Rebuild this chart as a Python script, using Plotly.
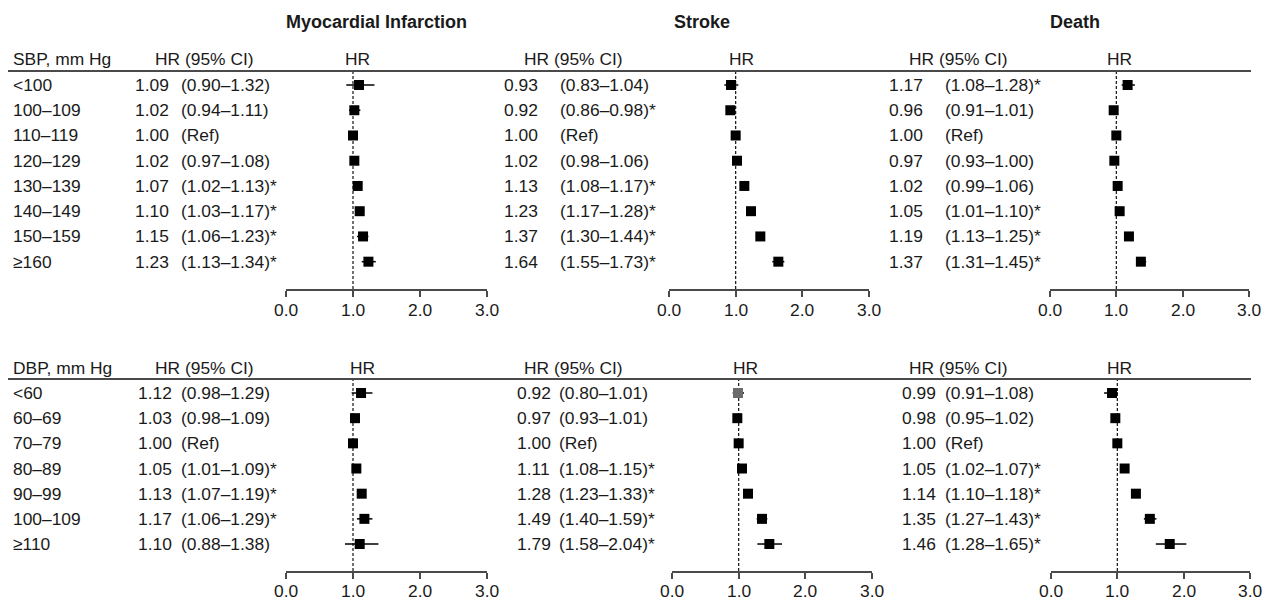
import plotly.graph_objects as go

# ---------------- data ----------------
outcomes = ["Myocardial Infarction", "Stroke", "Death"]

sbp_labels = ["<100", "100–109", "110–119", "120–129", "130–139", "140–149", "150–159", "≥160"]
dbp_labels = ["<60", "60–69", "70–79", "80–89", "90–99", "100–109", "≥110"]

# SBP (hazard ratio, lower CI, upper CI); None = reference category
mi_sbp_hr = [1.09, 1.02, 1.00, 1.02, 1.07, 1.10, 1.15, 1.23]
mi_sbp_lo = [0.90, 0.94, None, 0.97, 1.02, 1.03, 1.06, 1.13]
mi_sbp_hi = [1.32, 1.11, None, 1.08, 1.13, 1.17, 1.23, 1.34]

stroke_sbp_hr = [0.93, 0.92, 1.00, 1.02, 1.13, 1.23, 1.37, 1.64]
stroke_sbp_lo = [0.83, 0.86, None, 0.98, 1.08, 1.17, 1.30, 1.55]
stroke_sbp_hi = [1.04, 0.98, None, 1.06, 1.17, 1.28, 1.44, 1.73]

death_sbp_hr = [1.17, 0.96, 1.00, 0.97, 1.02, 1.05, 1.19, 1.37]
death_sbp_lo = [1.08, 0.91, None, 0.93, 0.99, 1.01, 1.13, 1.31]
death_sbp_hi = [1.28, 1.01, None, 1.00, 1.06, 1.10, 1.25, 1.45]

# DBP
mi_dbp_hr = [1.12, 1.03, 1.00, 1.05, 1.13, 1.17, 1.10]
mi_dbp_lo = [0.98, 0.98, None, 1.01, 1.07, 1.06, 0.88]
mi_dbp_hi = [1.29, 1.09, None, 1.09, 1.19, 1.29, 1.38]

stroke_dbp_hr = [0.92, 0.97, 1.00, 1.11, 1.28, 1.49, 1.79]
stroke_dbp_lo = [0.80, 0.93, None, 1.08, 1.23, 1.40, 1.58]
stroke_dbp_hi = [1.01, 1.01, None, 1.15, 1.33, 1.59, 2.04]

death_dbp_hr = [0.99, 0.98, 1.00, 1.05, 1.14, 1.35, 1.46]
death_dbp_lo = [0.91, 0.95, None, 1.02, 1.10, 1.27, 1.28]
death_dbp_hi = [1.08, 1.02, None, 1.07, 1.18, 1.43, 1.65]

axis_ticks = [0, 1, 2, 3]
axis_ticktext = ["0.0", "1.0", "2.0", "3.0"]

# ---------------- layout helpers ----------------
# positions below are given in target-image pixels; the page adds an 8px body margin
OFF = 8
W, H = 1265, 601

FONT = "Liberation Sans, Arial, sans-serif"
TXT = "#1a1a1a"
LINE = "#4a4a4a"
FS = 17.4

def px(x):
    return max(0.0, x - OFF) / W

def py(y):
    return 1 - (y - OFF) / H

panels = {
    "top": dict(
        labels=sbp_labels, header="SBP, mm Hg", yaxis="y",
        head_y=59, line_y=71, row0=85, step=25.24, axis_y=289, tick_y=310,
        data=[(mi_sbp_hr, mi_sbp_lo, mi_sbp_hi),
              (stroke_sbp_hr, stroke_sbp_lo, stroke_sbp_hi),
              (death_sbp_hr, death_sbp_lo, death_sbp_hi)],
        drawn=[(mi_sbp_hr, mi_sbp_lo, mi_sbp_hi),
               (stroke_sbp_hr, stroke_sbp_lo, stroke_sbp_hi),
               (death_sbp_hr, death_sbp_lo, death_sbp_hi)],
        hr_x=[133, 502, 887], ci_x=[179, 558, 943],
        hrci_head=[204, 573, 958], hr_head=[357, 741, 1119],
        ax=[(286, 487), (669, 869), (1050, 1249)],
        gray=[[], [], []],
    ),
    "bottom": dict(
        labels=dbp_labels, header="DBP, mm Hg", yaxis="y2",
        head_y=368, line_y=379, row0=393, step=25.17, axis_y=571, tick_y=591,
        data=[(mi_dbp_hr, mi_dbp_lo, mi_dbp_hi),
              (stroke_dbp_hr, stroke_dbp_lo, stroke_dbp_hi),
              (death_dbp_hr, death_dbp_lo, death_dbp_hi)],
        # in the original figure the Stroke and Death DBP markers are swapped
        drawn=[(mi_dbp_hr, mi_dbp_lo, mi_dbp_hi),
               (death_dbp_hr, death_dbp_lo, death_dbp_hi),
               (stroke_dbp_hr, stroke_dbp_lo, stroke_dbp_hi)],
        hr_x=[136, 515, 900], ci_x=[179, 557, 943],
        hrci_head=[204, 573, 958], hr_head=[362, 745, 1119],
        ax=[(286, 487), (672, 872), (1051, 1250)],
        gray=[[], [0], []],
    ),
}

fig = go.Figure()
annotations = []
shapes = []
layout_axes = {}

def ann(text, x, y, xanchor="left", xref="paper", yref="paper", bold=False, size=FS):
    annotations.append(dict(
        text=f"<b>{text}</b>" if bold else text, x=x, y=y, xref=xref, yref=yref,
        xanchor=xanchor, yanchor="middle", showarrow=False,
        font=dict(family=FONT, size=size, color=TXT)))

# titles
for name, cx in zip(outcomes, [376, 702, 1075]):
    ann(name, px(cx), py(22), xanchor="center", bold=True, size=18)

xi = 0
for key, p in panels.items():
    n = len(p["labels"])
    ytop = (p["row0"] - p["line_y"]) / p["step"]
    ybot = -(n - 1) - (p["axis_y"] - (p["row0"] + (n - 1) * p["step"])) / p["step"]
    ya = "yaxis" if p["yaxis"] == "y" else "yaxis2"
    layout_axes[ya] = dict(domain=[py(p["axis_y"]), py(p["line_y"])], range=[ybot, ytop],
                           visible=False, fixedrange=True, automargin=False)
    yvals = [-i for i in range(n)]

    # header line
    shapes.append(dict(type="line", xref="paper", yref="paper", x0=px(8), x1=px(1251),
                       y0=py(p["line_y"]), y1=py(p["line_y"]),
                       line=dict(color=LINE, width=1.8)))
    ann(p["header"], px(11), py(p["head_y"]))

    for lab, yv in zip(p["labels"], yvals):
        ann(lab, px(11), yv, yref=p["yaxis"])

    for j in range(3):
        xi += 1
        xname = "x" if xi == 1 else f"x{xi}"
        xa = "xaxis" if xi == 1 else f"xaxis{xi}"
        a0, a1 = p["ax"][j]
        layout_axes[xa] = dict(
            domain=[px(a0), px(a1)], range=[0, 3], anchor=p["yaxis"],
            tickvals=axis_ticks, ticks="outside", ticklen=6, showticklabels=False,
            tickwidth=1.5, tickcolor=LINE, showline=True, linecolor=LINE, linewidth=1.5,
            showgrid=False, zeroline=False, fixedrange=True, automargin=False)
        # tick labels placed on the axis scale
        for tv, tt in zip(axis_ticks, axis_ticktext):
            ann(tt, tv, py(p["tick_y"]), xanchor="center", xref=xname)

        ann("HR (95% CI)", px(p["hrci_head"][j]), py(p["head_y"]), xanchor="center")
        ann("HR", px(p["hr_head"][j]), py(p["head_y"]), xanchor="center")

        hr, lo, hi = p["data"][j]
        for i in range(n):
            ann(f"{hr[i]:.2f}", px(p["hr_x"][j]), yvals[i], yref=p["yaxis"])
            if lo[i] is None:
                ci = "(Ref)"
            else:
                star = "*" if (lo[i] > 1 or hi[i] < 1) else ""
                ci = f"({lo[i]:.2f}–{hi[i]:.2f}){star}"
            ann(ci, px(p["ci_x"][j]), yvals[i], yref=p["yaxis"])

        shapes.append(dict(type="line", xref=xname, yref=f"{p['yaxis']} domain",
                           x0=1, x1=1, y0=0, y1=1, layer="below",
                           line=dict(color="#111", width=1.2, dash="3px,2px")))

        dhr, dlo, dhi = p["drawn"][j]
        plus = [0 if h is None else h - v for v, h in zip(dhr, dhi)]
        minus = [0 if l is None else v - l for v, l in zip(dhr, dlo)]
        colors = ["#6b6b6b" if i in p["gray"][j] else "#000" for i in range(n)]
        fig.add_trace(go.Scatter(
            x=dhr, y=yvals, xaxis=xname, yaxis=p["yaxis"], mode="markers",
            marker=dict(symbol="square", size=10, color=colors, line=dict(width=0)),
            error_x=dict(type="data", array=plus, arrayminus=minus, symmetric=False,
                         color="#000", thickness=1.5, width=0),
            hoverinfo="skip", showlegend=False, cliponaxis=False))

fig.update_layout(
    width=W, height=H, margin=dict(l=0, r=0, t=0, b=0, autoexpand=False),
    paper_bgcolor="white", plot_bgcolor="white", showlegend=False,
    annotations=annotations, shapes=shapes, **layout_axes)

fig.write_html("out.html")
